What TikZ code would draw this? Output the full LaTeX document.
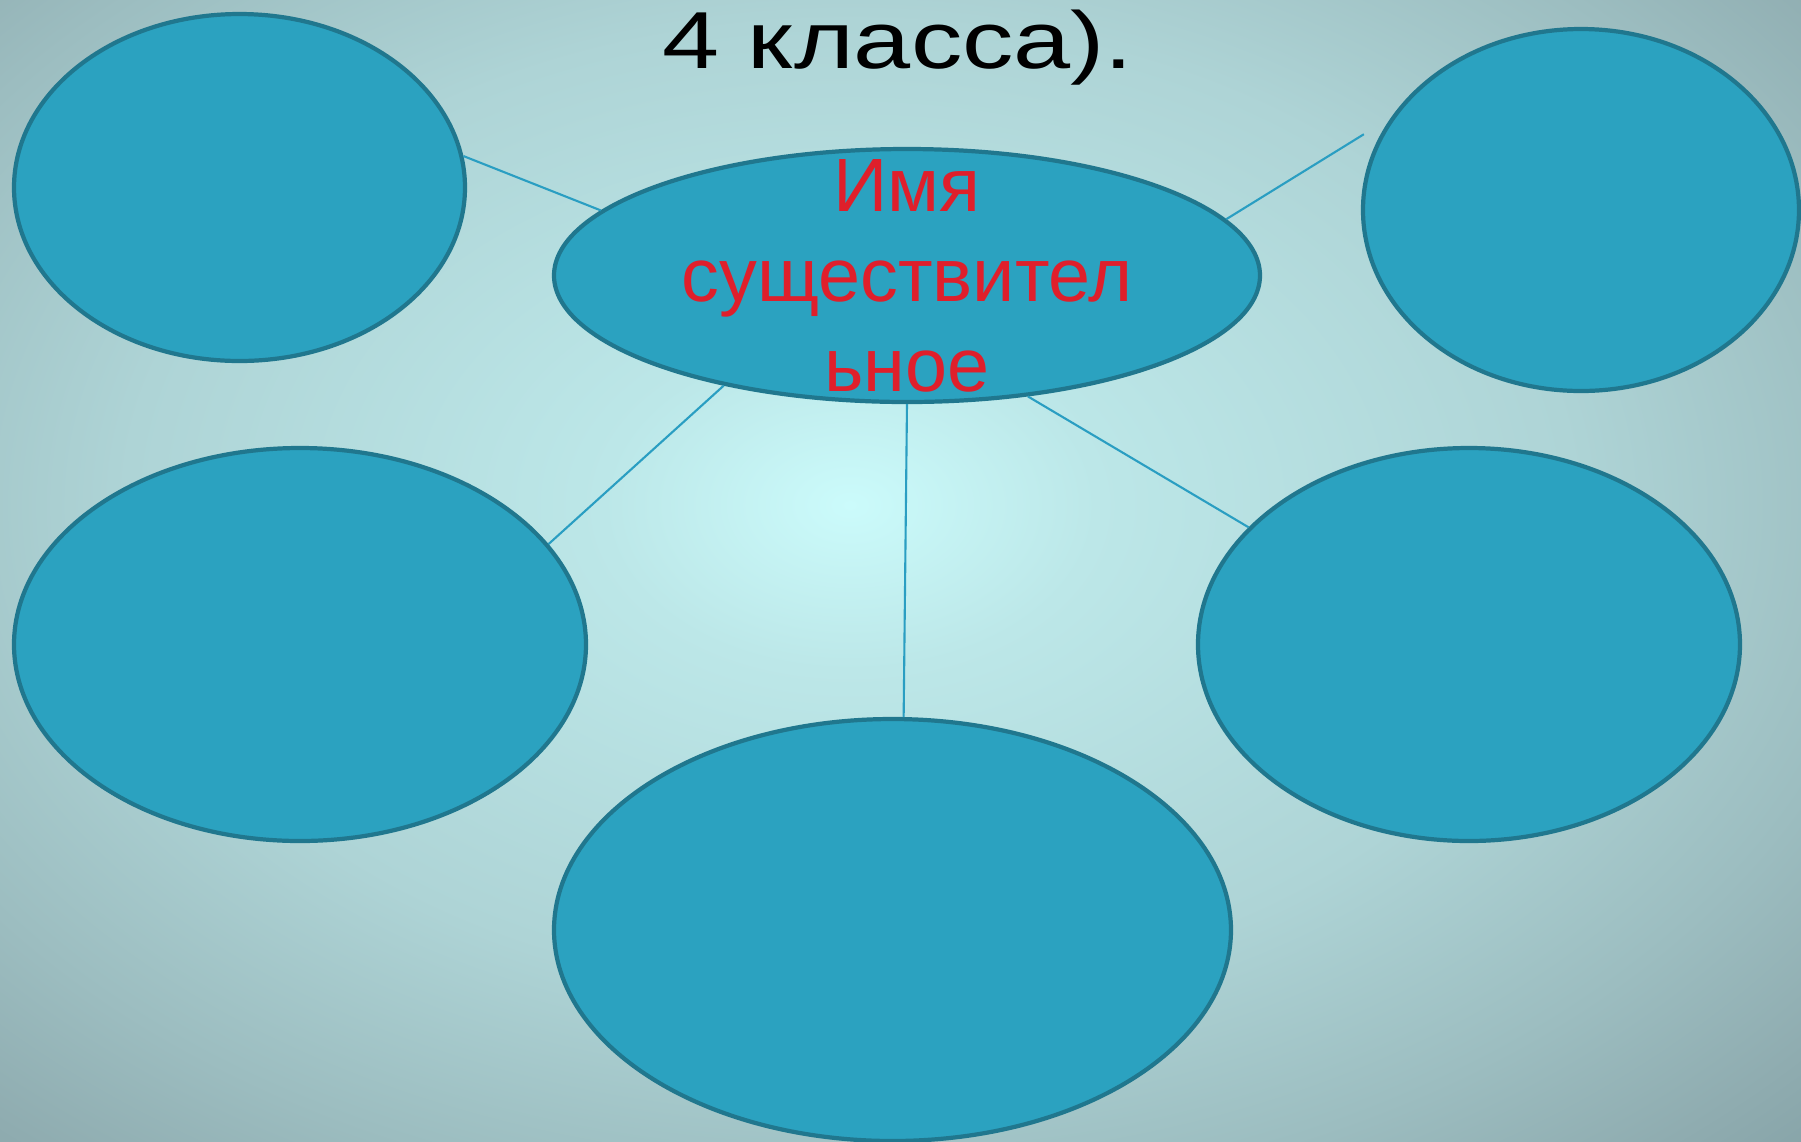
\documentclass[tikz,border=0pt]{standalone}
\usepackage{fontspec}
\setmainfont{Liberation Sans}
\usetikzlibrary{shapes.geometric,positioning}

\definecolor{ellfill}{HTML}{2BA2C0}
\definecolor{elldraw}{HTML}{20778E}
\definecolor{linkc}{HTML}{2A9EC2}
\definecolor{txtred}{HTML}{DF1F2B}
\definecolor{bga}{HTML}{CBFBFB}
\definecolor{bgb}{HTML}{BCE7E8}
\definecolor{bgc}{HTML}{AED4D6}
\definecolor{bgd}{HTML}{9CBDC0}
\definecolor{bge}{HTML}{8FACB0}
\definecolor{bgf}{HTML}{7E9BA0}
\pgfdeclareradialshading{bgglow}{\pgfpointorigin}{color(0bp)=(bga); color(6.5bp)=(bgb); color(19bp)=(bgc); color(27.5bp)=(bgd); color(33bp)=(bge); color(39bp)=(bgf)}

\begin{document}
\begin{tikzpicture}[x=0.1mm,y=-0.1mm]
    \tikzstyle{oval}=[ellipse,draw=elldraw,fill=ellfill,line width=1.2pt,inner sep=0pt]
    \tikzstyle{link}=[linkc,line width=0.6pt]
    \useasboundingbox (0,0) rectangle (1801,1141);
    \begin{scope}
      \clip (0,0) rectangle (1801,1141);
      \shade[shading=bgglow] (-101,-131) rectangle (1801,1141);
    \end{scope}
    \node[anchor=base,font=\fontsize{23pt}{27pt}\selectfont] (title) at (898,68) {\scalebox{1.27}[1]{4 класса).}};
    \node[oval,minimum width=45.1mm,minimum height=34.7mm] (tl) at (239.5,187.5) {};
    \node[oval,minimum width=70.6mm,minimum height=25.3mm] (c) at (907,275.5) {};
    \node[oval,minimum width=43.6mm,minimum height=36.2mm] (tr) at (1581,210) {};
    \node[oval,minimum width=57.2mm,minimum height=39.3mm] (ml) at (300,644.5) {};
    \node[oval,minimum width=54.2mm,minimum height=39.3mm] (mr) at (1469,644.5) {};
    \node[oval,minimum width=67.7mm,minimum height=42.2mm] (bot) at (892.5,930) {};
    \node[align=center,text=txtred,font=\fontsize{21.5pt}{25.6pt}\selectfont] (noun) at (c) {Имя\\существител\\ьное};
    \draw[link] (tl.8) -- (c.168);
    \draw[link,shorten >=3.2mm] (c.10) -- (tr.154);
    \draw[link] (c.211) -- (ml.22);
    \draw[link] (c.-45) -- (mr.152);
    \draw[link] (c.-90) -- (bot.87);
\end{tikzpicture}
\end{document}
